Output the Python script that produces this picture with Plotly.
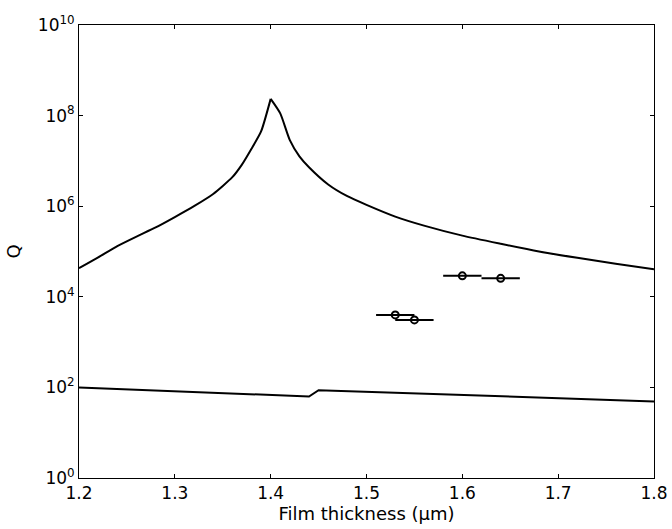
import plotly.graph_objects as go

# Upper curve (theory, high-Q branch)
x_upper = [1.20, 1.22, 1.24, 1.26, 1.28, 1.30, 1.32, 1.34, 1.36, 1.37, 1.38, 1.39,
           1.40, 1.41, 1.42, 1.43, 1.44, 1.46, 1.48, 1.50, 1.53, 1.56, 1.60, 1.64,
           1.68, 1.72, 1.76, 1.80]
q_upper = [4.27e4, 7.41e4, 1.32e5, 2.14e5, 3.39e5, 5.75e5, 1.0e6, 1.86e6, 4.37e6, 8.3e6,
           1.86e7, 4.47e7, 2.34e8, 1.12e8, 2.88e7, 1.26e7, 7.24e6, 3.02e6, 1.66e6, 1.07e6,
           5.89e5, 3.72e5, 2.24e5, 1.48e5, 1.0e5, 7.24e4, 5.37e4, 4.07e4]

# Lower curve
x_lower = [1.20, 1.44, 1.45, 1.60, 1.80]
q_lower = [100, 63, 87, 68, 49]

# Measured points with horizontal error
x_meas = [1.53, 1.55, 1.60, 1.64]
q_meas = [3980, 3090, 2.9e4, 2.56e4]
x_err = [0.02, 0.02, 0.02, 0.02]

x_ticks = [1.2, 1.3, 1.4, 1.5, 1.6, 1.7, 1.8]
x_ticklabels = ["1.2", "1.3", "1.4", "1.5", "1.6", "1.7", "1.8"]
y_ticks = [1, 1e2, 1e4, 1e6, 1e8, 1e10]
y_ticklabels = ["10<sup>0</sup>", "10<sup>2</sup>", "10<sup>4</sup>",
                "10<sup>6</sup>", "10<sup>8</sup>", "10<sup>10</sup>"]

peak = q_upper.index(max(q_upper))

fig = go.Figure()
# left branch up to the peak, right branch from the peak (sharp cusp kept)
fig.add_trace(go.Scatter(x=x_upper[:peak + 1], y=q_upper[:peak + 1], mode="lines",
                         line=dict(color="black", width=2, shape="spline", smoothing=0.6),
                         showlegend=False))
fig.add_trace(go.Scatter(x=x_upper[peak:], y=q_upper[peak:], mode="lines",
                         line=dict(color="black", width=2, shape="spline", smoothing=0.6),
                         showlegend=False))
fig.add_trace(go.Scatter(x=x_lower, y=q_lower, mode="lines",
                         line=dict(color="black", width=2), showlegend=False))
fig.add_trace(go.Scatter(x=x_meas, y=q_meas, mode="markers",
                         marker=dict(symbol="circle-open", size=7, color="black",
                                     line=dict(width=2, color="black")),
                         error_x=dict(type="data", array=x_err, visible=True,
                                      color="black", thickness=2, width=0),
                         showlegend=False))

font = dict(family="DejaVu Sans, Arial, sans-serif", size=17, color="black")
fig.update_layout(
    width=672, height=529,
    margin=dict(l=79, r=18, t=25, b=51, autoexpand=False),
    paper_bgcolor="white", plot_bgcolor="white",
    font=font,
    xaxis=dict(range=[1.2, 1.8], tickvals=x_ticks, ticktext=x_ticklabels,
               ticks="inside", ticklen=4, tickcolor="black", mirror="ticks",
               showline=True, linecolor="black", linewidth=1, showgrid=False,
               zeroline=False, tickfont=dict(size=17), automargin=False,
               title=dict(text="Film thickness (μm)", standoff=0, font=dict(size=18))),
    yaxis=dict(type="log", range=[0, 10], tickvals=y_ticks, ticktext=y_ticklabels,
               ticks="inside", ticklen=4, tickcolor="black", mirror="ticks",
               showline=True, linecolor="black", linewidth=1, showgrid=False,
               zeroline=False, tickfont=dict(size=17), automargin=False,
               title=dict(text="Q", standoff=12, font=dict(size=18))),
)
fig.write_html("out.html", config={"displayModeBar": False},
               post_script="document.body.style.margin='0';document.body.style.overflow='hidden';")
